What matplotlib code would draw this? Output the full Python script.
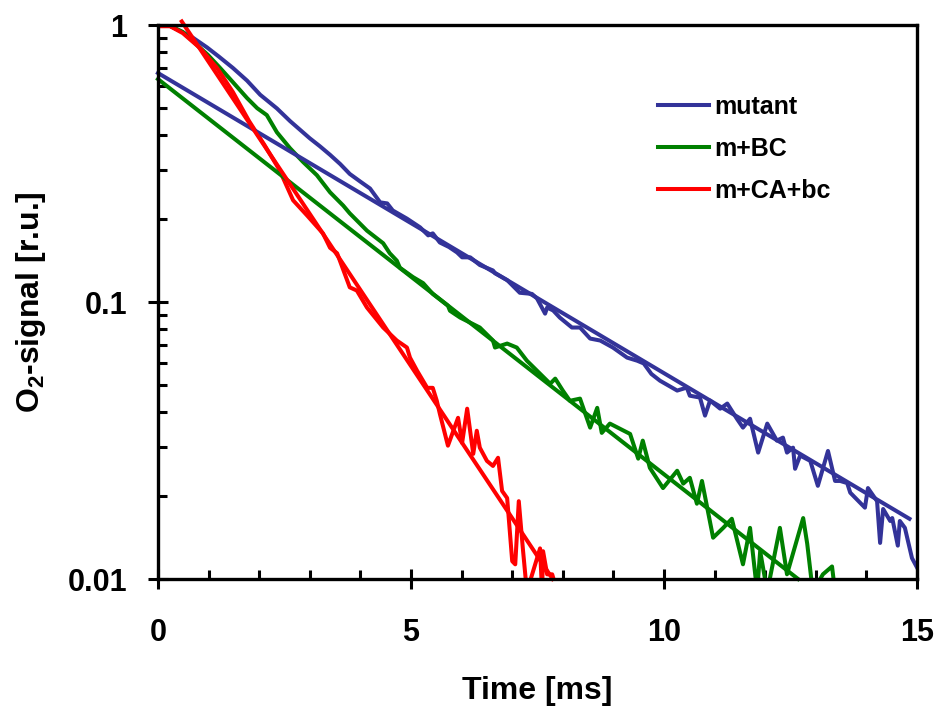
import matplotlib
matplotlib.use("Agg")
import matplotlib.pyplot as plt
from matplotlib.ticker import FixedLocator, LogLocator, NullFormatter

plt.rcParams['font.family'] = ['Liberation Sans', 'DejaVu Sans']
plt.rcParams['font.weight'] = 'bold'
plt.rcParams['mathtext.fontset'] = 'custom'
plt.rcParams['mathtext.rm'] = 'Liberation Sans:bold'
plt.rcParams['mathtext.it'] = 'Liberation Sans:bold'
plt.rcParams['mathtext.bf'] = 'Liberation Sans:bold'

mutant_t = [0.20, 0.45, 0.69, 0.97, 1.20, 1.48, 1.76, 2.02, 2.35, 2.61,
            3.00, 3.20, 3.40, 3.60, 3.79, 4.00, 4.19, 4.39, 4.53, 4.64,
            4.92, 5.18, 5.34, 5.43, 5.57, 5.75, 5.91, 6.01, 6.17, 6.36,
            6.62, 6.66, 6.90, 7.15, 7.39, 7.49, 7.65, 7.69, 7.81, 7.94,
            8.18, 8.34, 8.54, 8.74, 8.99, 9.27, 9.47, 9.60, 9.75, 9.92,
            10.26, 10.45, 10.51, 10.71, 10.81, 10.91, 11.11, 11.25, 11.44, 11.56,
            11.70, 11.86, 12.04, 12.23, 12.35, 12.43, 12.55, 12.59, 12.69, 12.89,
            13.04, 13.24, 13.38, 13.48, 13.62, 13.68, 13.97, 14.03, 14.21, 14.27,
            14.33, 14.47, 14.51, 14.62, 14.66, 14.76, 14.90, 15.00]
mutant_y = [1.00, 0.95, 0.90, 0.83, 0.77, 0.70, 0.63, 0.56, 0.50, 0.45,
            0.39, 0.365, 0.34, 0.315, 0.29, 0.272, 0.257, 0.229, 0.227, 0.214,
            0.200, 0.186, 0.174, 0.177, 0.164, 0.158, 0.151, 0.145, 0.145, 0.136,
            0.130, 0.127, 0.120, 0.108, 0.107, 0.103, 0.0908, 0.0955, 0.0932, 0.0879,
            0.0809, 0.0809, 0.0738, 0.0726, 0.0685, 0.063, 0.0614, 0.060, 0.055, 0.052,
            0.0479, 0.0491, 0.0459, 0.0452, 0.0389, 0.0441, 0.0412, 0.0430, 0.0379, 0.0352,
            0.0379, 0.0286, 0.0364, 0.0316, 0.0324, 0.0286, 0.0298, 0.0250, 0.0279, 0.0267,
            0.0217, 0.0290, 0.0226, 0.0226, 0.0222, 0.0205, 0.0181, 0.0213, 0.0191, 0.0135,
            0.0179, 0.0162, 0.0166, 0.0132, 0.0162, 0.0153, 0.0119, 0.011]

bc_t = [0.20, 0.49, 0.77, 0.99, 1.23, 1.48, 1.76, 1.96, 2.15, 2.35,
        2.61, 2.87, 3.14, 3.40, 3.66, 3.79, 4.13, 4.45, 4.58, 4.72,
        4.78, 5.04, 5.24, 5.43, 5.73, 5.77, 5.97, 6.36, 6.62, 6.66,
        6.90, 7.09, 7.29, 7.55, 7.75, 7.85, 8.00, 8.14, 8.34, 8.54,
        8.68, 8.77, 8.93, 9.33, 9.49, 9.58, 9.72, 9.98, 10.26, 10.38,
        10.51, 10.65, 10.75, 10.97, 11.17, 11.34, 11.56, 11.70, 11.84, 11.90,
        12.04, 12.29, 12.43, 12.75, 12.83, 12.94, 13.14, 13.32, 13.38]
bc_y = [1.00, 0.944, 0.847, 0.779, 0.699, 0.622, 0.545, 0.501, 0.473, 0.410,
        0.359, 0.320, 0.287, 0.249, 0.223, 0.209, 0.181, 0.163, 0.150, 0.141,
        0.133, 0.123, 0.117, 0.107, 0.097, 0.093, 0.0879, 0.0809, 0.0726, 0.0685,
        0.0708, 0.0685, 0.0614, 0.0551, 0.0507, 0.0529, 0.0479, 0.0440, 0.0448, 0.0352,
        0.0415, 0.0337, 0.0364, 0.0334, 0.0272, 0.0316, 0.0252, 0.0213, 0.0246, 0.0221,
        0.0232, 0.0187, 0.0226, 0.0141, 0.0153, 0.0165, 0.0113, 0.0153, 0.009, 0.0126,
        0.009, 0.0153, 0.0104, 0.0166, 0.0134, 0.009, 0.0104, 0.0111, 0.009]

ca_t = [0.00, 0.24, 0.49, 0.83, 1.17, 1.48, 1.80, 2.10, 2.40, 2.67,
        2.95, 3.26, 3.40, 3.54, 3.79, 3.93, 4.13, 4.45, 4.72, 4.92,
        4.98, 5.12, 5.32, 5.43, 5.51, 5.57, 5.73, 5.93, 6.01, 6.11,
        6.23, 6.30, 6.36, 6.50, 6.62, 6.72, 6.80, 6.90, 7.00, 7.06,
        7.13, 7.21, 7.29, 7.55, 7.59, 7.61, 7.69, 7.79, 7.89]
ca_y = [0.99, 0.99, 0.935, 0.826, 0.699, 0.573, 0.45, 0.37, 0.30, 0.233,
        0.205, 0.177, 0.157, 0.150, 0.113, 0.110, 0.0955, 0.0809, 0.0726, 0.0685,
        0.063, 0.0565, 0.049, 0.049, 0.044, 0.0395, 0.0303, 0.0382, 0.031, 0.0412,
        0.0283, 0.0343, 0.0298, 0.0267, 0.0256, 0.0274, 0.0208, 0.0196, 0.0116, 0.0113,
        0.0191, 0.0129, 0.009, 0.0129, 0.009, 0.0126, 0.0104, 0.0104, 0.009]

# single exponential fits (straight on log axis)
mutant_fit_t = [0.0, 14.85]
mutant_fit_y = [0.671, 0.0165]
bc_fit_t = [0.0, 12.65]
bc_fit_y = [0.638, 0.01]
ca_fit_t = [0.47, 7.8]
ca_fit_y = [1.03, 0.01]

labels = ['mutant', 'm+BC', 'm+CA+bc']
colors = ['#333399', '#008000', '#ff0000']

fig = plt.figure(figsize=(9.37, 7.13), dpi=100)
ax = fig.add_axes([0.1686, 0.1879, 0.8101, 0.7770])

lw = 2.9
ax.plot(mutant_t, mutant_y, color=colors[0], lw=lw, label=labels[0])
ax.plot(bc_t, bc_y, color=colors[1], lw=lw, label=labels[1])
ax.plot(ca_t, ca_y, color=colors[2], lw=lw, label=labels[2])
ax.plot(mutant_fit_t, mutant_fit_y, color=colors[0], lw=lw, clip_on=False)
ax.plot(bc_fit_t, bc_fit_y, color=colors[1], lw=lw, clip_on=False)
ax.plot(ca_fit_t, ca_fit_y, color=colors[2], lw=lw, clip_on=False)

ax.set_yscale('log')
ax.set_xlim(0, 15)
ax.set_ylim(0.01, 1)

ax.xaxis.set_major_locator(FixedLocator([0, 5, 10, 15]))
ax.xaxis.set_minor_locator(FixedLocator([1, 2, 3, 4, 6, 7, 8, 9, 11, 12, 13, 14]))
ax.set_xticklabels(['0', '5', '10', '15'])
ax.yaxis.set_major_locator(FixedLocator([0.01, 0.1, 1]))
ax.set_yticklabels(['0.01', '0.1', '1'])
ax.yaxis.set_minor_locator(LogLocator(base=10, subs=range(2, 10)))
ax.yaxis.set_minor_formatter(NullFormatter())

ax.tick_params(which='major', direction='inout', length=14, width=2.2,
               labelsize=22, pad=21)
ax.tick_params(axis='y', which='major', pad=15)
ax.tick_params(which='minor', direction='in', length=6.5, width=2.2)
for lab in ax.get_xticklabels() + ax.get_yticklabels():
    lab.set_fontweight('bold')

for sp in ax.spines.values():
    sp.set_linewidth(2.4)

ax.set_xlabel('Time [ms]', fontsize=23, fontweight='bold', labelpad=20)
ax.set_ylabel(r'O$_\mathregular{2}$-signal [r.u.]', fontsize=23,
              fontweight='bold', labelpad=14)

ax.legend(loc='upper left', bbox_to_anchor=(0.629, 0.915), frameon=False,
          prop={'size': 18, 'weight': 'bold'}, handlelength=2.05,
          handletextpad=0.2, labelspacing=0.72)

fig.savefig('out.png', dpi=100)
